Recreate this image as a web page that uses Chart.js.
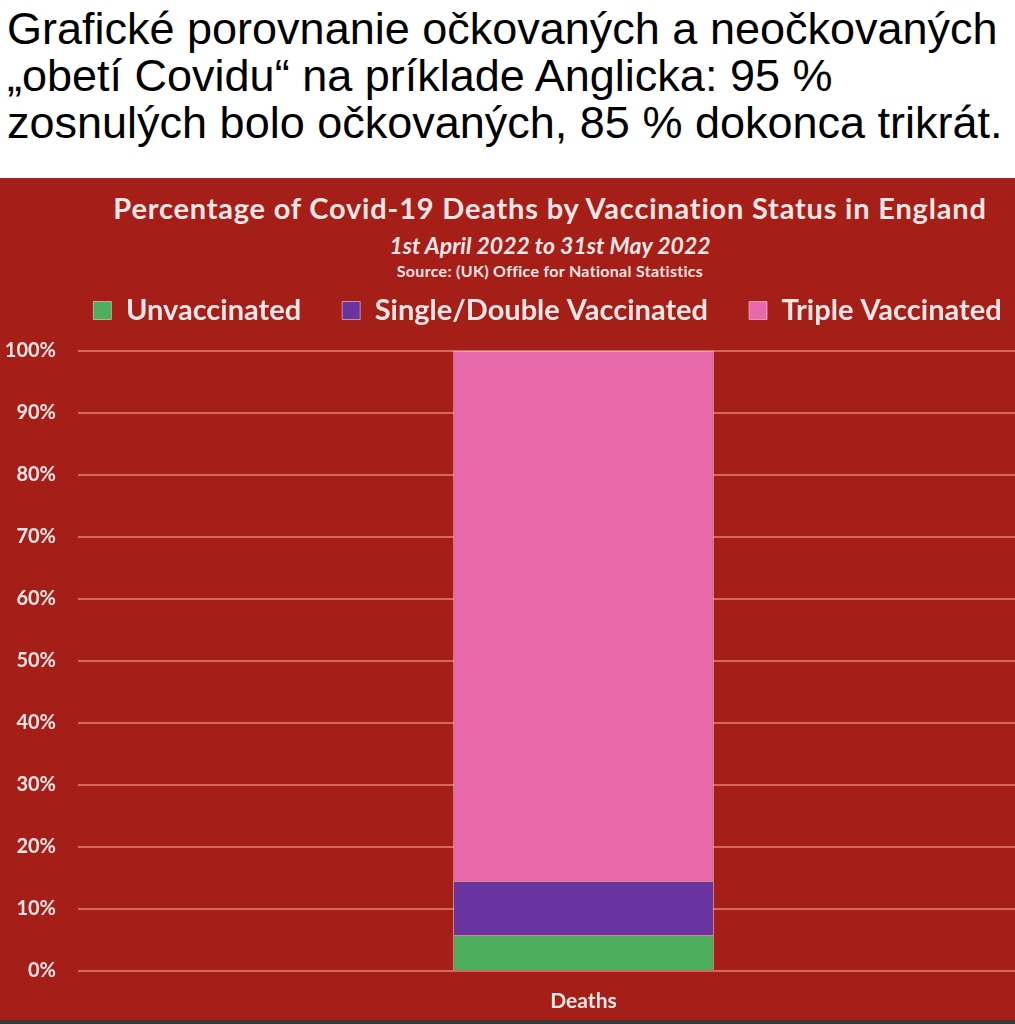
<!DOCTYPE html>
<html>
<head>
<meta charset="utf-8">
<script src="https://cdn.jsdelivr.net/npm/chart.js@4.4.1/dist/chart.umd.min.js"></script>
<style>
  html, body { margin: 0; padding: 0; }
  body { width: 1015px; height: 1024px; overflow: hidden; background: #ffffff; position: relative; }
  #nadpis {
    position: absolute; left: 7px; top: 5px; white-space: nowrap;
    font-family: "Liberation Sans", Arial, sans-serif; font-size: 45px; line-height: 47px; color: #000;
  }
  #panel { position: absolute; left: 0; top: 178px; width: 1090px; height: 842px; background: #a51f18; }
  #hlavicka { position: absolute; left: 0; top: 0; width: 1100px; text-align: center; color: #f4e6e6; font-family: Lato, sans-serif; font-weight: bold; }
  #titul { position: absolute; top: 12px; width: 100%; font-size: 29px; letter-spacing: 0.8px; }
  #obdobie { position: absolute; top: 53px; width: 100%; font-size: 23px; font-style: italic; }
  #zdroj { position: absolute; top: 83px; width: 100%; font-size: 16px; letter-spacing: 0.3px; }
  #graf { position: absolute; left: 0; top: 0; width: 1090px; height: 842px; }
  #spodok { position: absolute; left: 0; top: 1020px; width: 1015px; height: 4px; background: #3a3a3a; }
</style>
</head>
<body>
<div id="nadpis">Grafické porovnanie očkovaných a neočkovaných<br>„obetí Covidu“ na príklade Anglicka: 95 %<br>zosnulých bolo očkovaných, 85 % dokonca trikrát.</div>
<div id="panel">
  <div id="hlavicka">
    <div id="titul">Percentage of Covid-19 Deaths by Vaccination Status in England</div>
    <div id="obdobie">1st April 2022 to 31st May 2022</div>
    <div id="zdroj">Source: (UK) Office for National Statistics</div>
  </div>
  <div id="graf"><canvas id="grafUmrtia"></canvas></div>
</div>
<div id="spodok"></div>
<script>
const kategorie = ["Deaths"];
const neockovani = [5.8];
const jednaDveDavky = [8.7];
const troj = [85.5];
const osY = [0, 10, 20, 30, 40, 50, 60, 70, 80, 90, 100];

const textFarba = "#f4e6e6";

// trochu miesta medzi legendou a grafom
const medzeraLegendy = {
  id: "medzeraLegendy",
  beforeInit(chart) {
    const povodnyFit = chart.legend.fit;
    chart.legend.fit = function () {
      povodnyFit.call(this);
      this.height += 16;
    };
  }
};

new Chart(document.getElementById("grafUmrtia"), {
  type: "bar",
  data: {
    labels: kategorie,
    datasets: [
      { label: "Unvaccinated", data: neockovani, backgroundColor: "#4dae5e", borderColor: "rgba(255,220,230,0.55)", borderWidth: 1 },
      { label: "Single/Double Vaccinated", data: jednaDveDavky, backgroundColor: "#6a34a0", borderColor: "rgba(255,220,230,0.55)", borderWidth: 1 },
      { label: "Triple Vaccinated", data: troj, backgroundColor: "#e96aac", borderColor: "rgba(255,220,230,0.55)", borderWidth: 1 }
    ]
  },
  plugins: [medzeraLegendy],
  options: {
    responsive: true,
    maintainAspectRatio: false,
    animation: false,
    layout: { padding: { top: 77, left: 6, right: 1, bottom: 8 } },
    datasets: { bar: { barPercentage: 0.258, categoryPercentage: 1 } },
    plugins: {
      title: { display: false },
      tooltip: { enabled: false },
      legend: {
        position: "top",
        labels: {
          color: textFarba,
          boxWidth: 18,
          boxHeight: 18,
          padding: 41,
          font: { family: "Lato", size: 29, weight: "bold" }
        }
      }
    },
    scales: {
      x: {
        stacked: true,
        afterFit: (os) => { os.height = 41; },
        grid: { display: false, drawTicks: false },
        border: { display: false },
        ticks: { color: textFarba, padding: 18, font: { family: "Lato", size: 21, weight: "bold" } }
      },
      y: {
        stacked: true,
        min: 0,
        max: 100,
        afterFit: (os) => { os.width = 72; },
        afterBuildTicks: (os) => { os.ticks = osY.map(v => ({ value: v })); },
        grid: { color: "rgba(240,150,140,0.62)", lineWidth: 2, drawTicks: false },
        border: { display: false },
        ticks: { color: textFarba, padding: 22, callback: (v) => v + "%", font: { family: "Lato", size: 20, weight: "bold" } }
      }
    }
  }
});
</script>
</body>
</html>
